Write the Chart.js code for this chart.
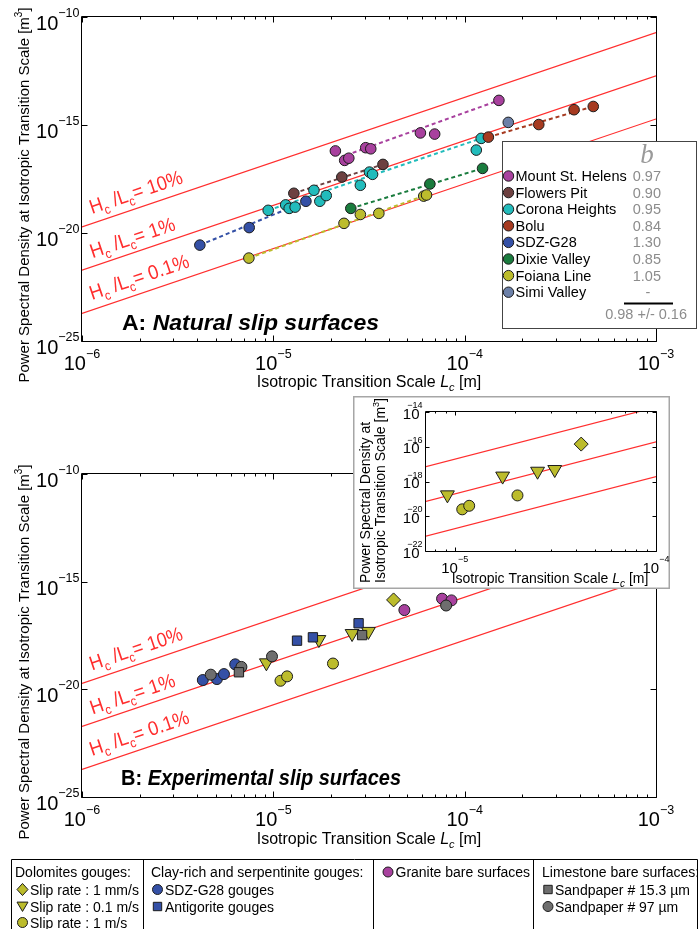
<!DOCTYPE html>
<html>
<head>
<meta charset="utf-8">
<script src="https://cdn.jsdelivr.net/npm/chart.js@4.4.1/dist/chart.umd.min.js"></script>
<style>
html,body{margin:0;padding:0;background:#fff;}
#fig{position:relative;width:700px;height:929px;overflow:hidden;background:#fff;}
.box{position:absolute;}
</style>
</head>
<body>
<div id="fig">
  <div class="box" style="left:0;top:0;width:700px;height:400px;"><canvas id="chartA"></canvas></div>
  <div class="box" style="left:0;top:400px;width:700px;height:529px;"><canvas id="chartB"></canvas></div>
  <div class="box" style="left:353px;top:396px;width:317px;height:193px;"><canvas id="chartI"></canvas></div>
</div>
<script>
// ---------------- reference lines H_c/L_c ----------------
const refLc = [1e-6, 1e-3];
const refPsd10 = [1.9e-20, 1.9e-11];
const refPsd1 = [1.9e-22, 1.9e-13];
const refPsd01 = [1.9e-24, 1.9e-15];
const refLabels = ['10%', '1%', '0.1%'];

// ---------------- axis tick exponents ----------------
const mainXLabelExps = [-6, -5, -4, -3];
const mainYLabelExps = [-10, -15, -20, -25];
const insetXLabelExps = [-5, -4];
const insetYLabelExps = [-14, -16, -18, -20, -22];

// ---------------- Panel A: natural slip surfaces ----------------
const naturalNames = ['Mount St. Helens', 'Flowers Pit', 'Corona Heights', 'Bolu', 'SDZ-G28', 'Dixie Valley', 'Foiana Line', 'Simi Valley'];
const naturalB = ['0.97', '0.90', '0.95', '0.84', '1.30', '0.85', '1.05', '-'];
const naturalMeanB = '0.98 +/- 0.16';

const mshLc = [2.11e-5, 2.36e-5, 2.48e-5, 3.04e-5, 3.23e-5, 5.87e-5, 6.97e-5, 1.51e-4];
const mshPsd = [6.3e-17, 2.3e-17, 2.9e-17, 8.9e-17, 7.9e-17, 4.3e-16, 3.8e-16, 1.38e-14];
const mshFitLc = [2.4e-5, 1.51e-4];
const mshFitPsd = [4.0e-17, 1.38e-14];

const flowersLc = [1.28e-5, 2.28e-5, 3.74e-5];
const flowersPsd = [6.9e-19, 3.9e-18, 1.5e-17];
const flowersFitLc = [1.28e-5, 3.74e-5];
const flowersFitPsd = [6.9e-19, 1.5e-17];

const coronaLc = [9.4e-6, 1.16e-5, 1.21e-5, 1.30e-5, 1.63e-5, 1.75e-5, 1.89e-5, 2.85e-5, 3.18e-5, 3.30e-5, 1.15e-4, 1.22e-4];
const coronaPsd = [1.12e-19, 2.0e-19, 1.38e-19, 1.58e-19, 9.5e-19, 2.95e-19, 5.4e-19, 1.62e-18, 6.6e-18, 5.2e-18, 6.9e-17, 2.4e-16];
const coronaFitLc = [9.4e-6, 1.22e-4];
const coronaFitPsd = [1.12e-19, 2.4e-16];

const boluLc = [1.33e-4, 2.44e-4, 3.73e-4, 4.70e-4];
const boluPsd = [2.75e-16, 1.05e-15, 5.1e-15, 7.2e-15];
const boluFitLc = [1.33e-4, 4.70e-4];
const boluFitPsd = [2.75e-16, 7.2e-15];

const sdzLc = [4.13e-6, 7.48e-6, 1.48e-5];
const sdzPsd = [2.75e-21, 1.78e-20, 2.95e-19];
const sdzFitLc = [4.13e-6, 1.48e-5];
const sdzFitPsd = [2.75e-21, 2.95e-19];

const dixieLc = [2.54e-5, 6.58e-5, 1.24e-4];
const dixiePsd = [1.38e-19, 1.86e-18, 9.8e-18];
const dixieFitLc = [2.54e-5, 1.24e-4];
const dixieFitPsd = [1.38e-19, 9.8e-18];

const foianaLc = [7.45e-6, 2.34e-5, 2.85e-5, 3.56e-5, 6.11e-5, 6.32e-5];
const foianaPsd = [6.9e-22, 2.8e-20, 7.2e-20, 8.1e-20, 5.1e-19, 5.75e-19];
const foianaFitLc = [7.45e-6, 6.32e-5];
const foianaFitPsd = [6.9e-22, 5.75e-19];

const simiLc = [1.69e-4];
const simiPsd = [1.32e-15];

// ---------------- Panel B: experimental slip surfaces ----------------
const dolo1mmLc = [4.25e-5];
const dolo1mmPsd = [1.42e-16];
const dolo01Lc = [9.2e-6, 1.73e-5, 2.58e-5, 3.14e-5];
const dolo01Psd = [1.7e-19, 2.05e-18, 3.9e-18, 4.9e-18];
const dolo1msLc = [1.09e-5, 1.18e-5, 2.05e-5];
const dolo1msPsd = [2.5e-20, 4.0e-20, 1.58e-19];

const sdzGougeLc = [4.28e-6, 5.07e-6, 5.52e-6, 6.32e-6];
const sdzGougePsd = [2.7e-20, 3.0e-20, 5.1e-20, 1.45e-19];
const antigoriteLc = [1.33e-5, 1.61e-5, 2.79e-5];
const antigoritePsd = [1.82e-18, 2.6e-18, 1.17e-17];

const graniteLc = [4.84e-5, 7.62e-5, 8.53e-5];
const granitePsd = [4.8e-17, 1.62e-16, 1.35e-16];

const sand153Lc = [6.61e-6, 2.91e-5];
const sand153Psd = [6.2e-20, 3.3e-18];
const sand97Lc = [4.71e-6, 6.81e-6, 9.84e-6, 8.0e-5];
const sand97Psd = [4.8e-20, 1.1e-19, 3.4e-19, 7.8e-17];

// ---------------- styles ----------------
const FONT = '"Liberation Sans", Arial, Helvetica, sans-serif';
const RED = '#ff2e2e';
const EDGE = '#1c1c1c';
const naturalColors = ['#a8419e', '#6d4040', '#22bcbc', '#a63a20', '#3450a6', '#1a7c3e', '#bcbc2c', '#6c80a8'];
const YEL = '#bcbc2c', BLUE = '#3450a6', GRAY = '#6e6e6e', MAG = '#a8419e';

function F(px, style) { return (style ? style + ' ' : '') + px + 'px ' + FONT; }
function xy(xs, ys) { return xs.map(function (x, i) { return { x: x, y: ys[i] }; }); }

function refSets() {
  return [refPsd10, refPsd1, refPsd01].map(function (ys) {
    return { data: xy(refLc, ys), showLine: true, borderColor: RED, borderWidth: 1.2, pointRadius: 0, pointHoverRadius: 0, fill: false, order: 20 };
  });
}
function fitSet(xs, ys, color) {
  return { data: xy(xs, ys), showLine: true, borderColor: color, borderWidth: 2, borderDash: [4, 3], pointRadius: 0, pointHoverRadius: 0, fill: false, order: 10 };
}
function markSet(xs, ys, color, style, r, rot, order) {
  return { data: xy(xs, ys), showLine: false, pointStyle: style, pointRadius: r, pointHoverRadius: r, pointRotation: rot || 0,
    backgroundColor: color, borderColor: EDGE, borderWidth: 1, order: order || 0 };
}

function textRuns(ctx, parts, x, y, align, color, fitWidth) {
  ctx.save();
  ctx.textAlign = 'left'; ctx.textBaseline = 'alphabetic';
  let w = 0;
  parts.forEach(function (p) { ctx.font = p.f; w += ctx.measureText(p.t).width; });
  const sx = fitWidth ? fitWidth / w : 1;
  let x0 = x;
  if (align === 'center') x0 = x - w * sx / 2; else if (align === 'right') x0 = x - w * sx;
  ctx.translate(x0, y); ctx.scale(sx, 1);
  let cx = 0;
  parts.forEach(function (p) {
    ctx.font = p.f; ctx.fillStyle = p.c || color;
    ctx.fillText(p.t, cx, p.dy || 0);
    cx += ctx.measureText(p.t).width;
  });
  ctx.restore();
  return w * sx;
}

function drawAxes(chart, o) {
  const ctx = chart.ctx, a = chart.chartArea, xs = chart.scales.x, ys = chart.scales.y;
  const L = Math.round(a.left) - 0.5, R = Math.round(a.right) + 0.5, T = Math.round(a.top) - 0.5, B = Math.round(a.bottom) + 0.5;
  ctx.save();
  ctx.strokeStyle = '#000'; ctx.lineWidth = 1;
  ctx.beginPath();
  ctx.rect(L, T, R - L, B - T);
  const e0 = Math.floor(Math.log10(xs.min) + 1e-9), e1 = Math.ceil(Math.log10(xs.max) - 1e-9);
  for (let e = e0; e <= e1; e++) {
    for (let k = 1; k <= 9; k++) {
      const v = k * Math.pow(10, e);
      if (v < xs.min * 0.9999 || v > xs.max * 1.0001) continue;
      const px = Math.round(xs.getPixelForValue(v)) + 0.5;
      const len = k === 1 ? o.major : o.minor;
      ctx.moveTo(px, B); ctx.lineTo(px, B - len);
      ctx.moveTo(px, T); ctx.lineTo(px, T + len);
    }
  }
  o.yTicks.forEach(function (e) {
    const py = Math.round(ys.getPixelForValue(Math.pow(10, e))) + 0.5;
    ctx.moveTo(L, py); ctx.lineTo(L + o.major, py);
    ctx.moveTo(R, py); ctx.lineTo(R - o.major, py);
  });
  ctx.stroke();
  ctx.fillStyle = '#000'; ctx.textAlign = 'left'; ctx.textBaseline = 'alphabetic';
  o.xLabels.forEach(function (e) {
    const px = xs.getPixelForValue(Math.pow(10, e));
    const s = '\u2212' + Math.abs(e);
    ctx.font = F(o.base); const w1 = ctx.measureText('10').width;
    ctx.font = F(o.sup); const w2 = ctx.measureText(s).width;
    const x0 = px - (w1 + w2) / 2;
    ctx.font = F(o.base); ctx.fillText('10', x0, B + o.xBase);
    ctx.font = F(o.sup); ctx.fillText(s, x0 + w1, B + o.xSupBase);
  });
  o.yTicks.forEach(function (e) {
    const py = ys.getPixelForValue(Math.pow(10, e));
    const s = '\u2212' + Math.abs(e);
    ctx.font = F(o.sup); const w2 = ctx.measureText(s).width;
    ctx.font = F(o.base); const w1 = ctx.measureText('10').width;
    const r = L - o.yGap;
    const sx = r - w2;
    const tx = o.supOver ? r - o.tenInset - w1 : sx - w1;
    ctx.fillText('10', tx, py + o.yBase);
    ctx.font = F(o.sup); ctx.fillText(s, sx, py + o.ySupBase);
  });
  ctx.restore();
}

function drawRatioLabels(chart, anchorX, offs, widths) {
  const ctx = chart.ctx, xs = chart.scales.x, ys = chart.scales.y;
  [refPsd10, refPsd1, refPsd01].forEach(function (arr, i) {
    const x1 = xs.getPixelForValue(refLc[0]), y1 = ys.getPixelForValue(arr[0]);
    const x2 = xs.getPixelForValue(refLc[1]), y2 = ys.getPixelForValue(arr[1]);
    const ang = Math.atan2(y2 - y1, x2 - x1);
    const t = (anchorX - x1) / (x2 - x1);
    const py = y1 + t * (y2 - y1);
    ctx.save();
    ctx.translate(anchorX, py); ctx.rotate(ang); ctx.translate(0, -offs[i]);
    textRuns(ctx, [
      { t: 'H', f: F(20) }, { t: 'c', f: F(13), dy: 5 }, { t: ' /L', f: F(20) }, { t: 'c', f: F(13), dy: 5 },
      { t: '= ' + refLabels[i], f: F(20) }
    ], 0, 0, 'left', RED, widths[i]);
    ctx.restore();
  });
}

function yTitle(ctx, x, cy, fit) {
  ctx.save();
  ctx.translate(x, cy); ctx.rotate(-Math.PI / 2);
  textRuns(ctx, [
    { t: 'Power Spectral Density at Isotropic Transition Scale [m', f: F(15) },
    { t: '3', f: F(10), dy: -7 }, { t: ']', f: F(15) }
  ], 0, 0, 'center', '#000', fit);
  ctx.restore();
}
function xTitle(ctx, cx, y, size, fit) {
  textRuns(ctx, [
    { t: 'Isotropic Transition Scale ', f: F(size) }, { t: 'L', f: F(size, 'italic') },
    { t: 'c', f: F(Math.round(size * 0.68), 'italic'), dy: Math.round(size * 0.28) }, { t: ' [m]', f: F(size) }
  ], cx, y, 'center', '#000', fit);
}

function marker(ctx, style, x, y, r, fill) {
  ctx.save();
  ctx.fillStyle = fill; ctx.strokeStyle = EDGE; ctx.lineWidth = 1;
  ctx.beginPath();
  if (style === 'circle') ctx.arc(x, y, r, 0, Math.PI * 2);
  else if (style === 'rect') ctx.rect(x - r, y - r, 2 * r, 2 * r);
  else if (style === 'diamond') { ctx.moveTo(x, y - r * 1.1); ctx.lineTo(x + r, y); ctx.lineTo(x, y + r * 1.1); ctx.lineTo(x - r, y); ctx.closePath(); }
  else if (style === 'tri') { ctx.moveTo(x - r, y - r * 0.8); ctx.lineTo(x + r, y - r * 0.8); ctx.lineTo(x, y + r * 0.9); ctx.closePath(); }
  ctx.fill(); ctx.stroke();
  ctx.restore();
}

const mainAxes = { base: 20, sup: 12.5, xBase: 28, xSupBase: 16, yGap: 2, yBase: 13, ySupBase: 0, major: 6, minor: 3,
  xLabels: mainXLabelExps, yTicks: mainYLabelExps, supOver: false };
const insetAxes = { base: 15, sup: 9, xBase: 21, xSupBase: 10, yGap: 3, yBase: 6.6, ySupBase: -4, major: 4, minor: 2,
  xLabels: insetXLabelExps, yTicks: insetYLabelExps, supOver: true, tenInset: 3 };

function baseOptions(xmin, xmax, ymin, ymax, padding) {
  return {
    responsive: true, maintainAspectRatio: false, animation: false, events: [],
    layout: { padding: padding },
    plugins: { legend: { display: false }, tooltip: { enabled: false } },
    scales: {
      x: { type: 'logarithmic', min: xmin, max: xmax, display: false },
      y: { type: 'logarithmic', min: ymin, max: ymax, display: false }
    }
  };
}

const ratioOffsets = [9, 8, 9.5];
const ratioWidths = [97, 89, 104];

// ---------------- Chart A ----------------
const plugA = {
  id: 'decorA',
  afterDraw: function (chart) {
    const ctx = chart.ctx;
    drawAxes(chart, mainAxes);
    drawRatioLabels(chart, 95, ratioOffsets, ratioWidths);
    textRuns(ctx, [{ t: 'A: ', f: F(22, 'bold') }, { t: 'Natural slip surfaces', f: F(22, 'italic bold') }], 122, 330, 'left', '#000', 257);
    xTitle(ctx, 369, 387, 16, null);
    yTitle(ctx, 29, 195, null);
    // legend box
    ctx.save();
    ctx.fillStyle = '#fff'; ctx.fillRect(503, 142, 194, 187);
    ctx.strokeStyle = '#444'; ctx.lineWidth = 1; ctx.strokeRect(502.5, 141.5, 194, 187);
    ctx.fillStyle = '#9a9a9a'; ctx.font = 'italic 27px "Liberation Serif", "DejaVu Serif", serif'; ctx.textAlign = 'center';
    ctx.fillText('b', 647, 163);
    naturalNames.forEach(function (n, i) {
      const cy = 176 + i * 16.6;
      marker(ctx, 'circle', 508.5, cy, 5.2, naturalColors[i]);
      ctx.font = F(14.5); ctx.fillStyle = '#000'; ctx.textAlign = 'left';
      ctx.fillText(n, 515.5, cy + 5);
      ctx.fillStyle = '#8c8c8c';
      if (naturalB[i] === '-') { ctx.textAlign = 'center'; ctx.fillText('-', 648, cy + 5); }
      else { ctx.textAlign = 'right'; ctx.fillText(naturalB[i], 661, cy + 5); }
    });
    ctx.strokeStyle = '#000'; ctx.lineWidth = 2;
    ctx.beginPath(); ctx.moveTo(624, 303.5); ctx.lineTo(673, 303.5); ctx.stroke();
    ctx.fillStyle = '#8c8c8c'; ctx.font = F(14.5); ctx.textAlign = 'right';
    ctx.fillText(naturalMeanB, 687, 319);
    ctx.restore();
  }
};

new Chart(document.getElementById('chartA'), {
  type: 'scatter',
  data: {
    datasets: refSets().concat([
      fitSet(mshFitLc, mshFitPsd, naturalColors[0]),
      fitSet(flowersFitLc, flowersFitPsd, naturalColors[1]),
      fitSet(coronaFitLc, coronaFitPsd, naturalColors[2]),
      fitSet(boluFitLc, boluFitPsd, naturalColors[3]),
      fitSet(sdzFitLc, sdzFitPsd, naturalColors[4]),
      fitSet(dixieFitLc, dixieFitPsd, naturalColors[5]),
      fitSet(foianaFitLc, foianaFitPsd, naturalColors[6]),
      markSet(sdzLc, sdzPsd, naturalColors[4], 'circle', 5.3, 0, 0),
      markSet(simiLc, simiPsd, naturalColors[7], 'circle', 5.3, 0, 1),
      markSet(boluLc, boluPsd, naturalColors[3], 'circle', 5.3, 0, 1),
      markSet(mshLc, mshPsd, naturalColors[0], 'circle', 5.3, 0, 1),
      markSet(flowersLc, flowersPsd, naturalColors[1], 'circle', 5.3, 0, 1),
      markSet(dixieLc, dixiePsd, naturalColors[5], 'circle', 5.3, 0, 1),
      markSet(foianaLc, foianaPsd, naturalColors[6], 'circle', 5.3, 0, 1),
      markSet(coronaLc, coronaPsd, naturalColors[2], 'circle', 5.3, 0, 2)
    ])
  },
  options: baseOptions(1e-6, 1e-3, 1e-25, 1e-10, { left: 82, top: 17, right: 44, bottom: 59 }),
  plugins: [plugA]
});

// ---------------- Chart B ----------------
function drawTable(ctx, oy) {
  ctx.save();
  ctx.strokeStyle = '#000'; ctx.lineWidth = 1;
  const top = 859.5 - oy;
  ctx.beginPath();
  ctx.rect(11.5, top, 686, 120);
  [143.5, 373.5, 533.5].forEach(function (x) { ctx.moveTo(x, top); ctx.lineTo(x, top + 120); });
  ctx.stroke();
  ctx.fillStyle = '#000'; ctx.font = F(14); ctx.textAlign = 'left';
  const r0 = 877 - oy, r1 = 894.5 - oy, r2 = 911.5 - oy, r3 = 927.5 - oy;
  ctx.fillText('Dolomites gouges:', 15, r0);
  marker(ctx, 'diamond', 22.5, r1 - 5, 5.5, YEL); ctx.fillStyle = '#000'; ctx.font = F(14); ctx.fillText('Slip rate : 1 mm/s', 30, r1);
  marker(ctx, 'tri', 22.5, r2 - 5, 5.5, YEL); ctx.fillStyle = '#000'; ctx.font = F(14); ctx.fillText('Slip rate : 0.1 m/s', 30, r2);
  marker(ctx, 'circle', 22.5, r3 - 5, 5, YEL); ctx.fillStyle = '#000'; ctx.font = F(14); ctx.fillText('Slip rate : 1 m/s', 30, r3);
  ctx.fillText('Clay-rich and serpentinite gouges:', 151, r0);
  marker(ctx, 'circle', 157.5, r1 - 5, 5, BLUE); ctx.fillStyle = '#000'; ctx.font = F(14); ctx.fillText('SDZ-G28 gouges', 165, r1);
  marker(ctx, 'rect', 157.5, r2 - 5, 4.2, BLUE); ctx.fillStyle = '#000'; ctx.font = F(14); ctx.fillText('Antigorite gouges', 165, r2);
  marker(ctx, 'circle', 388, r0 - 5, 5, MAG); ctx.fillStyle = '#000'; ctx.font = F(14); ctx.fillText('Granite bare surfaces', 395.5, r0);
  ctx.fillText('Limestone bare surfaces:', 542, r0);
  marker(ctx, 'rect', 548, r1 - 5, 4.2, GRAY); ctx.fillStyle = '#000'; ctx.font = F(14); ctx.fillText('Sandpaper # 15.3 \u00b5m', 555, r1);
  marker(ctx, 'circle', 548, r2 - 5, 5, GRAY); ctx.fillStyle = '#000'; ctx.font = F(14); ctx.fillText('Sandpaper # 97 \u00b5m', 555, r2);
  ctx.restore();
}

const plugB = {
  id: 'decorB',
  afterDraw: function (chart) {
    const ctx = chart.ctx;
    drawAxes(chart, mainAxes);
    drawRatioLabels(chart, 95, ratioOffsets, ratioWidths);
    textRuns(ctx, [{ t: 'B: ', f: F(22, 'bold') }, { t: 'Experimental slip surfaces', f: F(22, 'italic bold') }], 121, 385, 'left', '#000', 280);
    xTitle(ctx, 369, 444, 16, null);
    yTitle(ctx, 29, 252, null);
    drawTable(ctx, 400);
  }
};

new Chart(document.getElementById('chartB'), {
  type: 'scatter',
  data: {
    datasets: refSets().concat([
      markSet(dolo1mmLc, dolo1mmPsd, YEL, 'rectRot', 7, 0, 0),
      markSet(sand153Lc, sand153Psd, GRAY, 'rect', 6.6, 0, 1),
      markSet(sand97Lc, sand97Psd, GRAY, 'circle', 5.5, 0, 2),
      markSet(antigoriteLc, antigoritePsd, BLUE, 'rect', 6.6, 0, 2),
      markSet(dolo01Lc, dolo01Psd, YEL, 'triangle', 8, 180, 3),
      markSet(graniteLc, granitePsd, MAG, 'circle', 5.5, 0, 3),
      markSet(dolo1msLc, dolo1msPsd, YEL, 'circle', 5.5, 0, 3),
      markSet(sdzGougeLc, sdzGougePsd, BLUE, 'circle', 5.5, 0, 4)
    ])
  },
  options: baseOptions(1e-6, 1e-3, 1e-25, 1e-10, { left: 82, top: 74, right: 44, bottom: 132 }),
  plugins: [plugB]
});

// ---------------- Inset ----------------
const plugI = {
  id: 'decorI',
  beforeDraw: function (chart) {
    const ctx = chart.ctx;
    ctx.save();
    ctx.fillStyle = '#fff'; ctx.fillRect(0, 0, chart.width, chart.height);
    ctx.strokeStyle = '#a6a6a6'; ctx.lineWidth = 1.5;
    ctx.strokeRect(0.75, 0.75, chart.width - 1.5, chart.height - 1.5);
    ctx.restore();
  },
  afterDraw: function (chart) {
    const ctx = chart.ctx;
    drawAxes(chart, insetAxes);
    xTitle(ctx, 197, 187, 14, null);
    ctx.save();
    ctx.translate(16.5, 187); ctx.rotate(-Math.PI / 2);
    textRuns(ctx, [{ t: 'Power Spectral Density at', f: F(14) }], 0, 0, 'left', '#000');
    ctx.restore();
    ctx.save();
    ctx.translate(31.5, 187); ctx.rotate(-Math.PI / 2);
    textRuns(ctx, [{ t: 'Isotropic Transition Scale [m', f: F(14) }, { t: '3', f: F(9), dy: -6 }, { t: ']', f: F(14) }], 0, 0, 'left', '#000');
    ctx.restore();
  }
};

new Chart(document.getElementById('chartI'), {
  type: 'scatter',
  data: {
    datasets: refSets().concat([
      markSet(dolo1mmLc, dolo1mmPsd, YEL, 'rectRot', 7, 0, 0),
      markSet(dolo01Lc, dolo01Psd, YEL, 'triangle', 8, 180, 1),
      markSet(dolo1msLc, dolo1msPsd, YEL, 'circle', 5.5, 0, 2)
    ])
  },
  options: baseOptions(7.2e-6, 1e-4, 1e-22, 1e-14, { left: 73, top: 16, right: 14, bottom: 38 }),
  plugins: [plugI]
});
</script>
</body>
</html>
